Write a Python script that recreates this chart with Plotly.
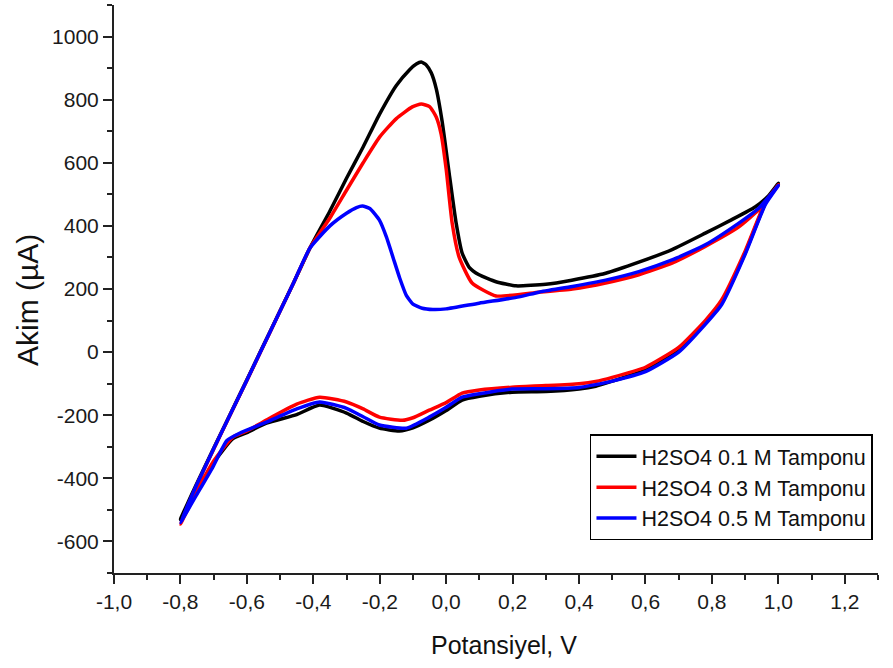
import plotly.graph_objects as go

# ---- data (potential V, current µA) ----
black_x = [-0.80, -0.75, -0.70, -0.66, -0.60, -0.56, -0.50, -0.46, -0.41, -0.35, -0.30, -0.25, -0.20, -0.15, -0.11,
           -0.09, -0.075, -0.06, -0.045, -0.03, -0.012, 0.009, 0.03, 0.048, 0.07, 0.099, 0.15, 0.21, 0.30, 0.378,
           0.48, 0.58, 0.68, 0.78, 0.86, 0.93, 0.97, 1.0,
           0.961, 0.90, 0.829, 0.78, 0.70, 0.60, 0.50, 0.45, 0.40, 0.30, 0.198, 0.10, 0.048, 0.0, -0.051, -0.10,
           -0.141, -0.201, -0.25, -0.30, -0.381, -0.45, -0.541, -0.60, -0.643, -0.70, -0.75, -0.80]
black_y = [-530, -415, -305, -218, -88, 0, 131, 218, 330, 447, 551, 650, 755, 845, 895,
           913, 919, 910, 885, 835, 730, 567, 409, 314, 268, 245, 223, 210, 215, 228,
           250, 285, 325, 377, 420, 460, 495, 535,
           472, 314, 155, 92, 6, -57, -92, -108, -117, -125, -127, -140, -152, -185, -216, -240,
           -250, -241, -220, -193, -168, -198, -225, -255, -275, -350, -440, -530]

red_x = [-0.80, -0.75, -0.70, -0.66, -0.60, -0.56, -0.50, -0.46, -0.41, -0.35, -0.30, -0.25, -0.20, -0.15, -0.102,
         -0.075, -0.05, -0.03, -0.015, 0.0, 0.018, 0.039, 0.078, 0.15, 0.279, 0.38, 0.48, 0.58, 0.68, 0.78, 0.88,
         0.94, 0.979, 1.0,
         0.961, 0.90, 0.829, 0.78, 0.70, 0.60, 0.50, 0.45, 0.40, 0.30, 0.198, 0.10, 0.048, 0.0, -0.051, -0.10,
         -0.132, -0.201, -0.25, -0.30, -0.381, -0.45, -0.541, -0.60, -0.643, -0.70, -0.75, -0.80]
red_y = [-545, -420, -308, -220, -90, -2, 130, 218, 330, 425, 513, 600, 682, 740, 777,
         786, 778, 745, 690, 580, 409, 301, 219, 178, 190, 200, 219, 245, 282, 335, 396,
         450, 500, 530,
         475, 320, 165, 100, 15, -48, -80, -93, -100, -106, -111, -120, -130, -160, -184, -208,
         -216, -206, -180, -158, -143, -165, -215, -250, -270, -345, -440, -545]

blue_x = [-0.80, -0.75, -0.70, -0.66, -0.60, -0.56, -0.50, -0.46, -0.41, -0.35, -0.30, -0.27, -0.252, -0.23,
          -0.201, -0.18, -0.16, -0.14, -0.12, -0.10, -0.072, -0.04, 0.0, 0.099, 0.219, 0.279, 0.38, 0.48, 0.58,
          0.68, 0.78, 0.88, 0.94, 0.99, 1.0,
          0.961, 0.90, 0.829, 0.78, 0.70, 0.60, 0.50, 0.45, 0.40, 0.30, 0.198, 0.10, 0.048, 0.0, -0.051, -0.12,
          -0.201, -0.25, -0.30, -0.381, -0.45, -0.541, -0.622, -0.66, -0.703, -0.75, -0.80]
blue_y = [-540, -418, -306, -219, -89, -1, 130, 218, 330, 400, 440, 458, 463, 455,
          418, 365, 300, 235, 180, 152, 139, 135, 137, 155, 175, 190, 208, 228, 255,
          292, 340, 408, 455, 515, 528,
          468, 310, 150, 88, 0, -62, -92, -103, -112, -116, -117, -132, -143, -175, -206, -241,
          -231, -205, -178, -158, -180, -222, -257, -280, -365, -450, -540]

series_names = ["H2SO4 0.1 M Tamponu", "H2SO4 0.3 M Tamponu", "H2SO4 0.5 M Tamponu"]

x_tick_vals = [-1.0, -0.8, -0.6, -0.4, -0.2, 0.0, 0.2, 0.4, 0.6, 0.8, 1.0, 1.2]
x_tick_text = ["-1,0", "-0,8", "-0,6", "-0,4", "-0,2", "0,0", "0,2", "0,4", "0,6", "0,8", "1,0", "1,2"]
y_tick_vals = [-600, -400, -200, 0, 200, 400, 600, 800, 1000]
y_tick_text = ["-600", "-400", "-200", "0", "200", "400", "600", "800", "1000"]

x_title = "Potansiyel, V"
y_title = "Akim (µA)"

FONT = "Liberation Sans, Arial, sans-serif"

fig = go.Figure()
for xs, ys, name, col in [(black_x, black_y, series_names[0], "#000000"),
                          (red_x, red_y, series_names[1], "#ff0000"),
                          (blue_x, blue_y, series_names[2], "#0000ff")]:
    fig.add_trace(go.Scatter(x=xs, y=ys, mode="lines", name=name,
                             line=dict(color=col, width=3.5, shape="spline", smoothing=0.5)))

axis_common = dict(showgrid=False, zeroline=False, showline=True, linecolor="#222", linewidth=2,
                   ticks="outside", ticklen=9, tickwidth=1.5, tickcolor="#222",
                   tickfont=dict(family=FONT, size=21, color="#1a1a1a"),
                   minor=dict(ticks="outside", ticklen=5, tickwidth=1.5, tickcolor="#222"))

fig.update_xaxes(range=[-1.0, 1.3], tickvals=x_tick_vals, ticktext=x_tick_text,
                 minor_dtick=0.1, minor_tick0=-1.0, **axis_common)
fig.update_yaxes(range=[-700, 1100], tickvals=y_tick_vals, ticktext=y_tick_text,
                 minor_dtick=100, minor_tick0=0, **axis_common)

fig.add_annotation(text=x_title, xref="paper", yref="paper", x=0.5105, y=-0.1268,
                   xanchor="center", yanchor="middle", showarrow=False,
                   font=dict(family=FONT, size=25, color="#111"))
fig.add_annotation(text=y_title, xref="paper", yref="paper", x=-0.1139, y=0.4806,
                   xanchor="center", yanchor="middle", showarrow=False, textangle=-90,
                   font=dict(family=FONT, size=30, color="#111"))

fig.update_layout(
    width=893, height=668,
    margin=dict(l=114, r=15, t=5, b=95),
    paper_bgcolor="white", plot_bgcolor="white",
    showlegend=True,
    legend=dict(x=0.623, y=0.151, xanchor="left", yanchor="middle",
                bordercolor="#000", borderwidth=1.5, bgcolor="white",
                font=dict(family=FONT, size=21.5, color="#111"),
                tracegroupgap=0, itemwidth=40),
)

fig.write_html("out.html")
